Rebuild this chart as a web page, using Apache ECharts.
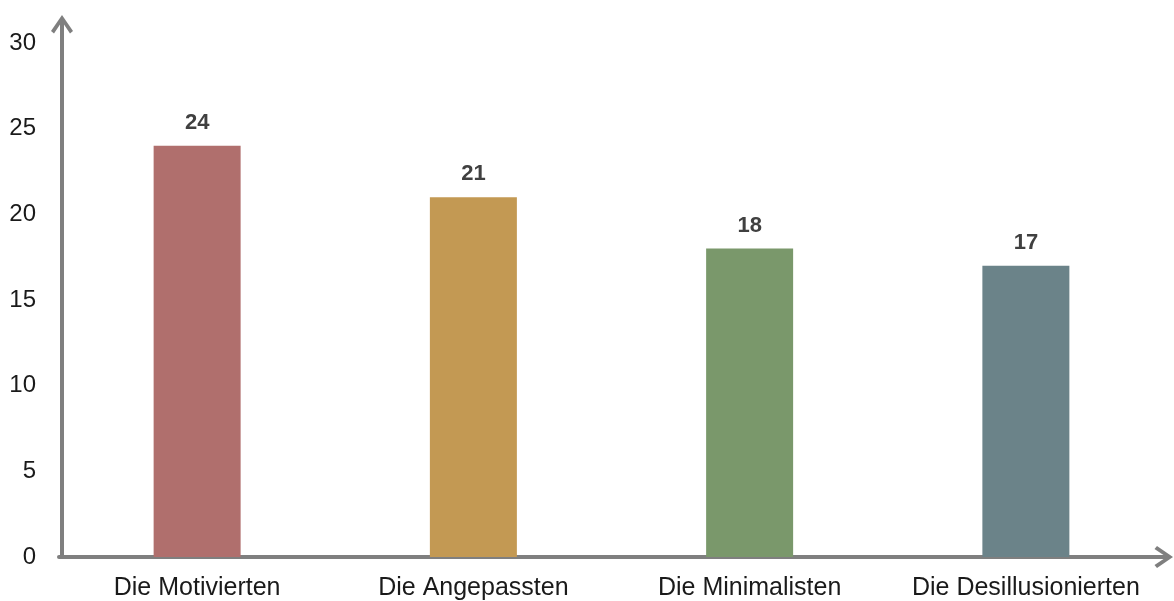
<!DOCTYPE html>
<html>
<head>
<meta charset="utf-8">
<script src="https://cdn.jsdelivr.net/npm/echarts@6/dist/echarts.min.js"></script>
<style>
html,body{margin:0;padding:0;background:#fff;}
#chart{width:1174px;height:601px;}
</style>
</head>
<body>
<div id="chart"></div>
<script>
const categories = ['Die Motivierten', 'Die Angepassten', 'Die Minimalisten', 'Die Desillusionierten'];
const values = [24, 21, 18, 17];
const barColors = ['#b06f6d', '#c39953', '#7a986b', '#6b8389'];
const yTicks = { min: 0, max: 30, interval: 5 };

const arrowPath = 'path://M11,0 L22,16 L19,18.5 L13,9.5 L13,28 L9,28 L9,9.5 L3,18.5 L0,16 Z';
const axisColor = '#7f7f7f';

const chart = echarts.init(document.getElementById('chart'), null, { renderer: 'canvas' });
chart.setOption({
  animation: false,
  backgroundColor: '#ffffff',
  grid: { left: 59, right: 10, top: 43, bottom: 43.5, containLabel: false },
  xAxis: {
    type: 'category',
    data: categories,
    axisLine: {
      show: true,
      lineStyle: { color: axisColor, width: 4 },
      symbol: ['none', arrowPath],
      symbolSize: [22, 28],
      symbolOffset: [0, -5]
    },
    axisTick: { show: false },
    axisLabel: {
      color: '#1a1a1a',
      fontSize: 25,
      fontFamily: '"Liberation Sans", Arial, sans-serif',
      margin: 19,
      interval: 0
    },
    splitLine: { show: false }
  },
  yAxis: {
    type: 'value',
    min: yTicks.min,
    max: yTicks.max,
    interval: yTicks.interval,
    offset: -3,
    axisLine: {
      show: true,
      lineStyle: { color: axisColor, width: 4 },
      symbol: ['none', arrowPath],
      symbolSize: [22, 28],
      symbolOffset: [0, 14]
    },
    axisTick: { show: false },
    axisLabel: {
      color: '#1a1a1a',
      fontSize: 24,
      fontFamily: '"Liberation Sans", Arial, sans-serif',
      margin: 26
    },
    splitLine: { show: false }
  },
  series: [{
    type: 'bar',
    data: values.map((v, i) => ({ value: v, itemStyle: { color: barColors[i] } })),
    barWidth: 87,
    label: {
      show: true,
      position: 'top',
      distance: 12,
      color: '#404040',
      fontSize: 22,
      fontWeight: 'bold',
      fontFamily: '"Liberation Sans", Arial, sans-serif'
    }
  }]
});
</script>
</body>
</html>
